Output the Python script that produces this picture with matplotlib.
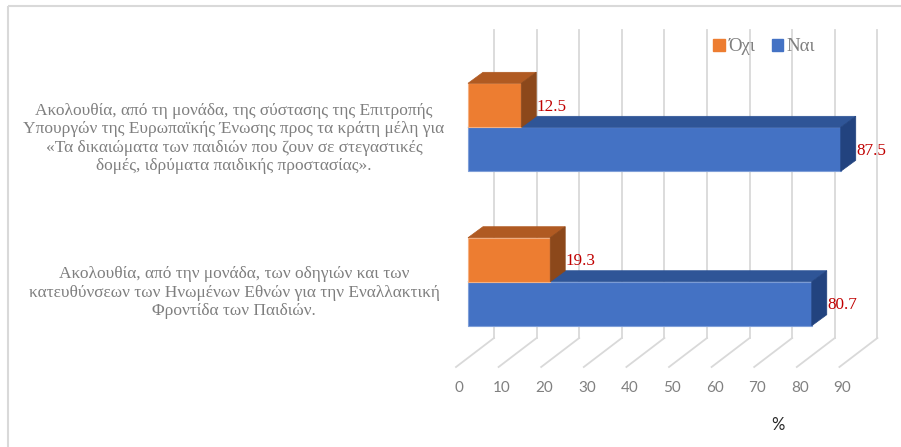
import matplotlib
matplotlib.use("Agg")
import matplotlib.pyplot as plt
from matplotlib.patches import Polygon, Patch

# ---------------- data ----------------
categories = [
    "Ακολουθία, από τη μονάδα, της σύστασης της Επιτροπής\n"
    "Υπουργών της Ευρωπαϊκής Ένωσης προς τα κράτη μέλη για\n"
    "«Τα δικαιώματα των παιδιών που ζουν σε στεγαστικές\n"
    "δομές, ιδρύματα παιδικής προστασίας».",
    "Ακολουθία, από την μονάδα, των οδηγιών και των\n"
    "κατευθύνσεων των Ηνωμένων Εθνών για την Εναλλακτική\n"
    "Φροντίδα των Παιδιών.",
]
series_names = ["Όχι", "Ναι"]
no_values = [12.5, 19.3]
yes_values = [87.5, 80.7]
tick_values = [0, 10, 20, 30, 40, 50, 60, 70, 80, 90]
axis_unit = "%"

# ---------------- style / layout ----------------
W, H = 901, 447
PX_PER_UNIT = 4.26
X0_PX = 468
ORANGE, ORANGE_TOP, ORANGE_SIDE, ORANGE_EDGE = "#ED7D31", "#B05A22", "#8C481B", "#F4B183"
BLUE, BLUE_TOP, BLUE_SIDE, BLUE_EDGE = "#4472C4", "#2F5597", "#22437F", "#7F9FD8"
GRID = "#D9D9D9"
LABEL_RED = "#C00000"
GRAY_TXT = "#7F7F7F"

DX = 15 / PX_PER_UNIT      # depth offset (x, data units)
DY = 11                    # depth offset (y, px units)
BACK_DX = 26 / PX_PER_UNIT
FRONT_DX = -12 / PX_PER_UNIT
GRID_TOP, GRID_BACK, GRID_FRONT = 30, 338, 367
BAR_H = 44
GROUP0, GROUP_STEP = 127.3, 154.4

fig = plt.figure(figsize=(W / 100, H / 100), dpi=100)
ax = fig.add_axes([0, 0, 1, 1])
ax.set_xlim(-X0_PX / PX_PER_UNIT, (W - X0_PX) / PX_PER_UNIT)
ax.set_ylim(H, 0)
ax.axis("off")

# chart border (top + left)
ax.plot([(8 - X0_PX) / PX_PER_UNIT] * 2, [H, 6], color="#D9D9D9", lw=1.5,
        solid_capstyle="butt", zorder=1)
ax.plot([(8 - X0_PX) / PX_PER_UNIT, (W - X0_PX) / PX_PER_UNIT], [6, 6],
        color="#D9D9D9", lw=1.5, solid_capstyle="butt", zorder=1)

# grid: back wall verticals + floor diagonals
for t in tick_values:
    ax.plot([t + BACK_DX, t + BACK_DX], [GRID_TOP, GRID_BACK], color=GRID, lw=1.3, zorder=1)
    ax.plot([t + BACK_DX, t + FRONT_DX], [GRID_BACK, GRID_FRONT], color=GRID, lw=1.3, zorder=1)
    ax.text(t - 9 / PX_PER_UNIT, 388, str(t), ha="center", va="center",
            fontsize=11, color="#808080", family="Lato")

ax.text((778 - X0_PX) / PX_PER_UNIT, 425, axis_unit, ha="center", va="center",
        fontsize=12, color="#262626", family="Lato")


def bar3d(value, yc, front, top, side, edge, z):
    ax.barh(yc, value, height=BAR_H, left=0, color=front, edgecolor=edge,
            linewidth=0.8, zorder=z)
    t, b = yc - BAR_H / 2, yc + BAR_H / 2
    ax.add_patch(Polygon([(0, t), (value, t), (value + DX, t - DY), (DX, t - DY)],
                         closed=True, facecolor=top, edgecolor=top, lw=0.5, zorder=z))
    ax.add_patch(Polygon([(value, t), (value, b), (value + DX, b - DY), (value + DX, t - DY)],
                         closed=True, facecolor=side, edgecolor=side, lw=0.5, zorder=z))
    ax.text(value + DX + 0.1, yc + 1.5, f"{value}", ha="left", va="center",
            fontsize=12.3, color=LABEL_RED, family="Liberation Serif", zorder=z + 1)


for i, cat in enumerate(categories):
    boundary = GROUP0 + GROUP_STEP * i
    bar3d(yes_values[i], boundary + BAR_H / 2, BLUE, BLUE_TOP, BLUE_SIDE, BLUE_EDGE, 3)
    bar3d(no_values[i], boundary - BAR_H / 2, ORANGE, ORANGE_TOP, ORANGE_SIDE, ORANGE_EDGE, 5)
    ax.text((234 - X0_PX) / PX_PER_UNIT, boundary + 11, cat, ha="center", va="center",
            multialignment="center", fontsize=12.5, color=GRAY_TXT,
            family="Liberation Serif", linespacing=1.2)

handles = [Patch(facecolor=ORANGE, edgecolor=ORANGE), Patch(facecolor=BLUE, edgecolor=BLUE)]
leg = ax.legend(handles, series_names, loc="upper left",
                bbox_to_anchor=(704 / W, 1 - 29 / H), ncol=2, frameon=False,
                borderpad=0, handlelength=0.62, handleheight=0.62, handletextpad=0.2,
                columnspacing=0.85, prop={"family": "Liberation Serif", "size": 13.5})
for txt in leg.get_texts():
    txt.set_color("#7F7F7F")

fig.savefig("out.png", dpi=100)
